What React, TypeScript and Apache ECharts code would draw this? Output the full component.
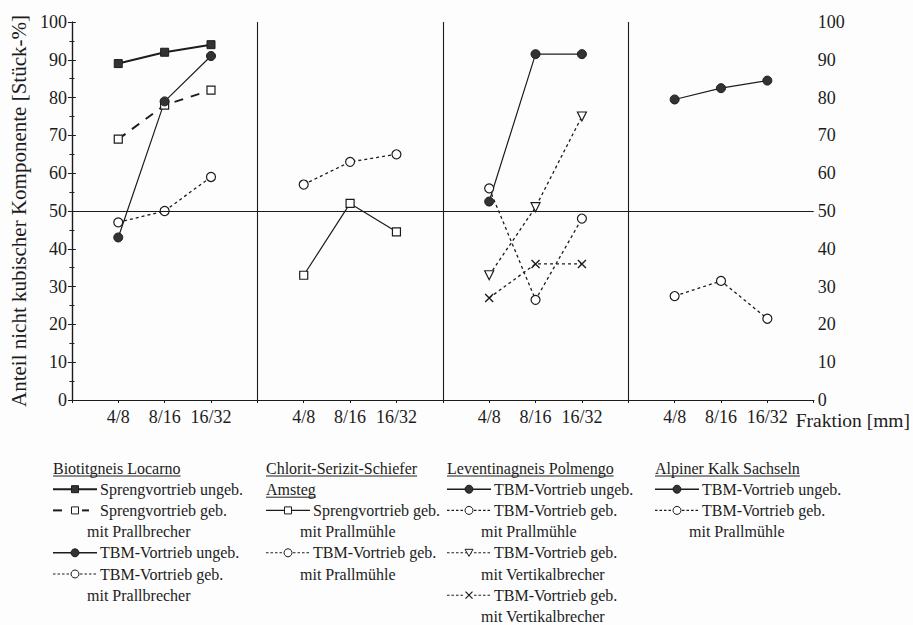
import React, { useEffect, useRef } from "react";
import * as echarts from "echarts";

// ---- data ----
const fractions = ["4/8", "8/16", "16/32"];
const panelBoundaries = [4, 8, 12];
const referenceLevel = 50;
const yTicks = [0, 100, 10];

// Biotitgneis Locarno
const locSprengUngeb = [89, 92, 94];
const locSprengGebPrallbrecher = [69, 78, 82];
const locTbmUngeb = [43, 79, 91];
const locTbmGebPrallbrecher = [47, 50, 59];
// Chlorit-Serizit-Schiefer Amsteg
const amsSprengGebPrallmuehle = [33, 52, 44.5];
const amsTbmGebPrallmuehle = [57, 63, 65];
// Leventinagneis Polmengo
const polTbmUngeb = [52.5, 91.5, 91.5];
const polTbmGebPrallmuehle = [56, 26.5, 48];
const polTbmGebVertikalA = [33, 51, 75];
const polTbmGebVertikalB = [27, 36, 36];
// Alpiner Kalk Sachseln
const sacTbmUngeb = [79.5, 82.5, 84.5];
const sacTbmGebPrallmuehle = [27.5, 31.5, 21.5];

const panelTitles = [
  ["Biotitgneis Locarno"],
  ["Chlorit-Serizit-Schiefer", "Amsteg"],
  ["Leventinagneis Polmengo"],
  ["Alpiner Kalk Sachseln"],
];

type Mk = "filledSquare" | "openSquare" | "filledCircle" | "openCircle" | "triangleDown" | "cross";
type Ln = "solidBold" | "longDash" | "solid" | "dotted";

const seriesSpecs: { panel: number; label: string; sub: string; values: number[]; line: Ln; marker: Mk }[] = [
  { panel: 0, label: "Sprengvortrieb ungeb.", sub: "", values: locSprengUngeb, line: "solidBold", marker: "filledSquare" },
  { panel: 0, label: "Sprengvortrieb geb.", sub: "mit Prallbrecher", values: locSprengGebPrallbrecher, line: "longDash", marker: "openSquare" },
  { panel: 0, label: "TBM-Vortrieb ungeb.", sub: "", values: locTbmUngeb, line: "solid", marker: "filledCircle" },
  { panel: 0, label: "TBM-Vortrieb geb.", sub: "mit Prallbrecher", values: locTbmGebPrallbrecher, line: "dotted", marker: "openCircle" },
  { panel: 1, label: "Sprengvortrieb geb.", sub: "mit Prallmühle", values: amsSprengGebPrallmuehle, line: "solid", marker: "openSquare" },
  { panel: 1, label: "TBM-Vortrieb geb.", sub: "mit Prallmühle", values: amsTbmGebPrallmuehle, line: "dotted", marker: "openCircle" },
  { panel: 2, label: "TBM-Vortrieb ungeb.", sub: "", values: polTbmUngeb, line: "solid", marker: "filledCircle" },
  { panel: 2, label: "TBM-Vortrieb geb.", sub: "mit Prallmühle", values: polTbmGebPrallmuehle, line: "dotted", marker: "openCircle" },
  { panel: 2, label: "TBM-Vortrieb geb.", sub: "mit Vertikalbrecher", values: polTbmGebVertikalA, line: "dotted", marker: "triangleDown" },
  { panel: 2, label: "TBM-Vortrieb geb.", sub: "mit Vertikalbrecher", values: polTbmGebVertikalB, line: "dotted", marker: "cross" },
  { panel: 3, label: "TBM-Vortrieb ungeb.", sub: "", values: sacTbmUngeb, line: "solid", marker: "filledCircle" },
  { panel: 3, label: "TBM-Vortrieb geb.", sub: "mit Prallmühle", values: sacTbmGebPrallmuehle, line: "dotted", marker: "openCircle" },
];

// ---- styles ----
const INK = "#1c1c1c";
const FILL = "#333";
const FONT = "Liberation Serif";

const lineStyles: Record<Ln, any> = {
  solidBold: { width: 2, type: "solid" },
  longDash: { width: 2, type: [9, 8] },
  solid: { width: 1.2, type: "solid" },
  dotted: { width: 1.3, type: [3, 3] },
};

function markerSeriesProps(m: Mk) {
  switch (m) {
    case "filledSquare":
      return { symbol: "rect", symbolSize: 8, itemStyle: { color: FILL, borderColor: INK, borderWidth: 1 } };
    case "openSquare":
      return { symbol: "rect", symbolSize: 8, itemStyle: { color: "#fff", borderColor: INK, borderWidth: 1.2 } };
    case "filledCircle":
      return { symbol: "circle", symbolSize: 9, itemStyle: { color: FILL, borderColor: INK, borderWidth: 1 } };
    case "openCircle":
      return { symbol: "circle", symbolSize: 9, itemStyle: { color: "#fff", borderColor: INK, borderWidth: 1.2 } };
    case "triangleDown":
      return { symbol: "triangle", symbolRotate: 180, symbolSize: 9, itemStyle: { color: "#fff", borderColor: INK, borderWidth: 1.2 } };
    case "cross":
      return { symbol: "path://M0,0L10,10M10,0L0,10", symbolSize: 8, itemStyle: { color: "none", borderColor: INK, borderWidth: 1.4 } };
  }
}

function measure(text: string, size: number) {
  const c = document.createElement("canvas").getContext("2d");
  if (!c) return text.length * size * 0.45;
  c.font = `${size}px Liberation Serif`;
  return c.measureText(text).width;
}

function legendGraphics() {
  const colX = [53, 266, 447, 655];
  const y0 = 468;
  const rowH = 21.2;
  const fs = 16;
  const els: any[] = [];
  const txt = (x: number, y: number, t: string) =>
    els.push({ type: "text", x, y, style: { text: t, fontSize: fs, fontFamily: FONT, fill: INK, verticalAlign: "middle", align: "left" }, silent: true });
  panelTitles.forEach((titles, p) => {
    const x = colX[p];
    let r = 0;
    titles.forEach((t) => {
      const y = y0 + r * rowH;
      txt(x, y, t);
      const w = measure(t, fs);
      els.push({ type: "line", shape: { x1: x, y1: y + 8, x2: x + w, y2: y + 8 }, style: { stroke: INK, lineWidth: 1 }, silent: true });
      r++;
    });
    seriesSpecs
      .filter((s) => s.panel === p)
      .forEach((s) => {
        const y = y0 + r * rowH;
        const cx = x + 22;
        if (s.line === "longDash") {
          els.push({ type: "line", shape: { x1: x, y1: y, x2: x + 9, y2: y }, style: { stroke: INK, lineWidth: 2 } });
          els.push({ type: "line", shape: { x1: x + 29, y1: y, x2: x + 36, y2: y }, style: { stroke: INK, lineWidth: 2 } });
        } else if (s.line === "dotted") {
          els.push({ type: "line", shape: { x1: x, y1: y, x2: x + 44, y2: y }, style: { stroke: INK, lineWidth: 1.1, lineDash: [2.5, 2] } });
        } else {
          els.push({ type: "line", shape: { x1: x, y1: y, x2: x + 44, y2: y }, style: { stroke: INK, lineWidth: s.line === "solidBold" ? 2 : 1.4 } });
        }
        const sz = 7;
        const h = sz / 2;
        switch (s.marker) {
          case "filledSquare":
            els.push({ type: "rect", shape: { x: cx - h, y: y - h, width: sz, height: sz }, style: { fill: FILL, stroke: INK, lineWidth: 1 } });
            break;
          case "openSquare":
            els.push({ type: "rect", shape: { x: cx - h, y: y - h, width: sz, height: sz }, style: { fill: "#fff", stroke: INK, lineWidth: 1 } });
            break;
          case "filledCircle":
            els.push({ type: "circle", shape: { cx, cy: y, r: h + 0.5 }, style: { fill: FILL, stroke: INK, lineWidth: 1 } });
            break;
          case "openCircle":
            els.push({ type: "circle", shape: { cx, cy: y, r: h + 0.5 }, style: { fill: "#fff", stroke: INK, lineWidth: 1 } });
            break;
          case "triangleDown":
            els.push({ type: "polygon", shape: { points: [[cx - h - 0.5, y - h], [cx + h + 0.5, y - h], [cx, y + h]] }, style: { fill: "#fff", stroke: INK, lineWidth: 1 } });
            break;
          case "cross":
            els.push({ type: "rect", shape: { x: cx - h - 1, y: y - h - 1, width: sz + 2, height: sz + 2 }, style: { fill: "#fdfdfd" } });
            els.push({ type: "line", shape: { x1: cx - h, y1: y - h, x2: cx + h, y2: y + h }, style: { stroke: INK, lineWidth: 1.2 } });
            els.push({ type: "line", shape: { x1: cx - h, y1: y + h, x2: cx + h, y2: y - h }, style: { stroke: INK, lineWidth: 1.2 } });
            break;
        }
        txt(x + 47, y, s.label);
        r++;
        if (s.sub) {
          txt(x + 34, y0 + r * rowH, s.sub);
          r++;
        }
      });
  });
  return els;
}

export default function App() {
  const ref = useRef<HTMLDivElement>(null);
  useEffect(() => {
    if (!ref.current) return;
    const chart = echarts.init(ref.current, null, { renderer: "svg" });
    const axisText = { fontSize: 18, fontFamily: FONT, color: INK };
    const axisLine = { show: true, lineStyle: { color: INK, width: 1.2 } };

    const series: any[] = seriesSpecs.map((s, i) => ({
      type: "line",
      id: "s" + i,
      name: s.label + " " + s.sub,
      data: s.values.map((v, k) => [s.panel * 4 + k + 1, v]),
      lineStyle: { color: INK, ...lineStyles[s.line] },
      ...markerSeriesProps(s.marker),
      z: 3,
    }));
    series.push({
      type: "line",
      id: "guides",
      data: [],
      z: 2,
      markLine: {
        silent: true,
        symbol: ["none", "none"],
        label: { show: false },
        lineStyle: { color: INK, type: "solid", width: 1.1 },
        data: [...panelBoundaries.map((x) => ({ xAxis: x })), { yAxis: referenceLevel }],
      },
    });

    chart.setOption({
      animation: false,
      backgroundColor: "#fdfdfd",
      textStyle: { fontFamily: FONT },
      grid: { left: 67, right: 96, top: 22, bottom: 225 },
      xAxis: [
        {
          type: "value",
          min: 0,
          max: 16,
          interval: 1,
          position: "bottom",
          axisLine,
          axisTick: { show: true, inside: false, length: 3, lineStyle: { color: INK } },
          splitLine: { show: false },
          axisLabel: {
            ...axisText,
            margin: 8,
            formatter: (v: number) => (v % 4 === 0 ? "" : fractions[(v % 4) - 1]),
          },
          name: "Fraktion [mm]",
          nameLocation: "end",
          nameGap: -18,
          nameTextStyle: { ...axisText, fontSize: 19.5, align: "left", verticalAlign: "top", padding: [10, 0, 0, 0] },
        },
        {
          type: "value",
          min: 0,
          max: 16,
          interval: 1,
          position: "top",
          axisLine,
          axisTick: { show: true, inside: true, length: 3, lineStyle: { color: INK } },
          splitLine: { show: false },
          axisLabel: { show: false },
        },
      ],
      yAxis: [
        {
          type: "value",
          min: yTicks[0],
          max: yTicks[1],
          interval: yTicks[2],
          position: "left",
          axisLine,
          axisTick: { show: true, inside: true, length: 4, lineStyle: { color: INK } },
          minorTick: { show: true, splitNumber: 2, length: 2.5, lineStyle: { color: INK } },
          splitLine: { show: false },
          axisLabel: { ...axisText, margin: 5 },
          name: "Anteil nicht kubischer Komponente [Stück-%]",
          nameLocation: "middle",
          nameRotate: 90,
          nameGap: 42,
          nameTextStyle: { fontSize: 21, fontFamily: FONT, color: INK },
        },
        {
          type: "value",
          min: yTicks[0],
          max: yTicks[1],
          interval: yTicks[2],
          position: "right",
          axisLine,
          axisTick: { show: true, inside: true, length: 4, lineStyle: { color: INK } },
          minorTick: { show: true, splitNumber: 2, length: 2.5, lineStyle: { color: INK } },
          splitLine: { show: false },
          axisLabel: { ...axisText, margin: 4 },
        },
      ],
      series,
      graphic: legendGraphics(),
    });
    return () => chart.dispose();
  }, []);
  return <div ref={ref} style={{ position: "fixed", left: 0, top: 0, width: 913, height: 625 }} />;
}
